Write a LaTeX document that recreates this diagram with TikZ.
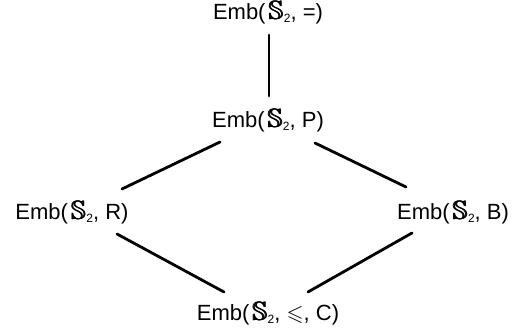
\documentclass[tikz,border=0pt]{standalone}
\usepackage{amsmath,amssymb}
\usepackage{fontspec}
\setmainfont{Liberation Sans}
\newcommand{\sstwo}{\,\scalebox{1.2}{$\pmb{\mathbb{S}}$}\raisebox{-3pt}{\fontsize{12}{13}\selectfont 2}}
\begin{document}
\begin{tikzpicture}[x=1pt,y=-1pt,
  lbl/.style={anchor=base,inner sep=0pt,font=\fontsize{22}{26}\selectfont},
  edge/.style={line width=2.8pt,line cap=round}]
\useasboundingbox (0,0) rectangle (515,336);
\node[lbl] (T) at (268,20) {Emb(\sstwo, =)};
\node[lbl] (P) at (268,128) {Emb(\sstwo, P)};
\node[lbl] (R) at (72,220) {Emb(\sstwo, R)};
\node[lbl] (B) at (453,220) {Emb(\sstwo, B)};
\node[lbl] (C) at (268,321) {Emb(\sstwo, $\leqslant$, C)};
\draw[edge] ([shift={(1,15)}]T.base) -- ([shift={(1,-32)}]P.base);
\draw[edge] ([shift={(-48,14)}]P.base) -- ([shift={(50,-31)}]R.base);
\draw[edge] ([shift={(47,15)}]P.base) -- ([shift={(-47,-33)}]B.base);
\draw[edge] ([shift={(45,14)}]R.base) -- ([shift={(-44,-29)}]C.base);
\draw[edge] ([shift={(-41,13)}]B.base) -- ([shift={(40,-29)}]C.base);
\end{tikzpicture}
\end{document}
